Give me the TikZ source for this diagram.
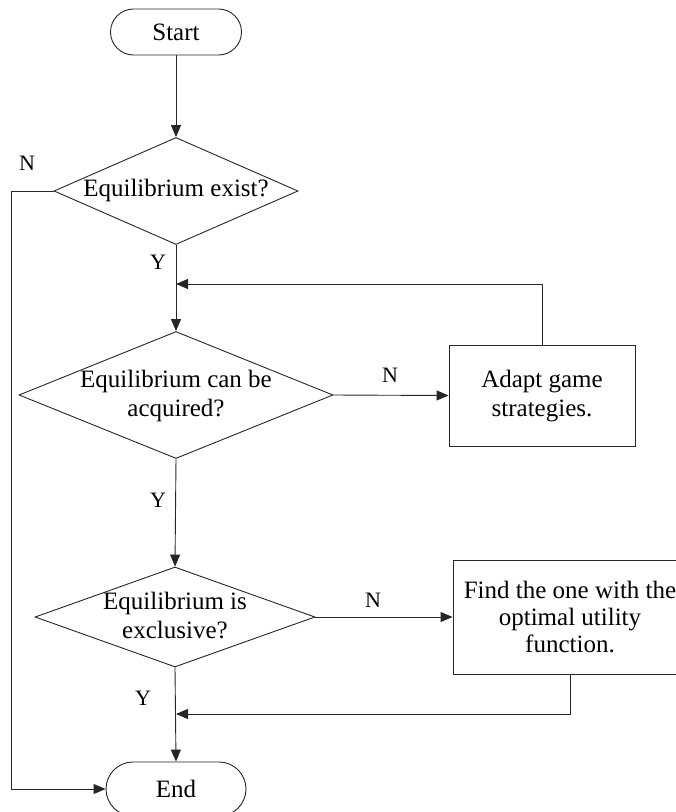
\documentclass[tikz,border=0pt]{standalone}
\usepackage{fontspec}
\setmainfont{Liberation Serif}
\usetikzlibrary{shapes.geometric,arrows.meta}
\begin{document}
\begin{tikzpicture}[x=1pt,y=-1pt,
  every node/.style={font=\fontsize{25}{29}\selectfont},
  line/.style={draw=black!85, line width=0.9pt},
  arr/.style={line, -{Triangle[length=12pt,width=10pt]}},
  term/.style={draw=black!85, line width=0.9pt, rectangle, rounded corners=23pt, inner sep=0pt},
  dia/.style={draw=black!85, line width=0.9pt, diamond, inner sep=0pt},
  procbox/.style={draw=black!85, line width=0.9pt, rectangle, inner sep=0pt},
  txt/.style={align=center, inner sep=0pt},
  lab/.style={font=\fontsize{22}{26}\selectfont, inner sep=0pt}]
\useasboundingbox (0,0) rectangle (676,812);
\node[term, minimum width=131pt, minimum height=46pt] (start) at (176,32) {Start};
\node[dia, minimum width=244pt, minimum height=107pt] (d1) at (176,191) {};
\node[txt] (d1t) at (176,190) {Equilibrium exist?};
\node[dia, minimum width=314pt, minimum height=127pt] (d2) at (176,395) {};
\node[txt] (d2t) at (176,396) {Equilibrium can be\\acquired?};
\node[dia, minimum width=280pt, minimum height=100pt] (d3) at (175,617) {};
\node[txt] (d3t) at (175,615) {Equilibrium is\\exclusive?};
\node[procbox, minimum width=186pt, minimum height=101pt] (b1) at (542,395.5) {};
\node[txt] (b1t) at (542,396) {Adapt game\\strategies.};
\node[procbox, minimum width=234pt, minimum height=114pt] (b2) at (570,617) {};
\node[txt, font=\fontsize{25}{27}\selectfont] (b2t) at (570,617) {Find the one with the\\optimal utility\\function.};
\node[term, rounded corners=27pt, minimum width=140pt, minimum height=54pt] (end) at (176,789) {End};

\coordinate (j1) at (176,284);
\coordinate (j2) at (176,714);

\draw[arr] (start) -- (d1.north);
\draw[arr] (d1.west) -- (11,191) -- (11,789) -- (end.west);
\draw[arr] (d1.south) -- (d2.north);
\draw[arr] (b1.north) |- (j1);
\draw[arr] (d2.east) -- (b1.west);
\draw[arr] (d2.south) -- (d3.north);
\draw[arr] (d3.east) -- (b2.west);
\draw[arr] (d3.south) -- (end.north);
\draw[arr] (b2.south) |- (j2);

\node[lab] (n1) at (27,163) {N};
\node[lab] (y1) at (158,262) {Y};
\node[lab] (n2) at (390,375) {N};
\node[lab] (y2) at (158,500) {Y};
\node[lab] (n3) at (373,600) {N};
\node[lab] (y3) at (143,698) {Y};
\end{tikzpicture}
\end{document}
